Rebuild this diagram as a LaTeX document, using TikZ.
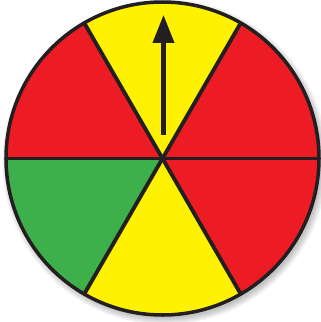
\documentclass[tikz,border=0pt]{standalone}
\usepackage{tikz}
\usetikzlibrary{arrows.meta}

\definecolor{spinred}{HTML}{ED1C24}
\definecolor{spinyellow}{HTML}{FFF200}
\definecolor{spingreen}{HTML}{3DB04B}
\definecolor{spinline}{HTML}{231F20}

\begin{document}
\begin{tikzpicture}[
    x=0.02cm, y=-0.02cm,
    rim/.style={draw=spinline, line width=2pt},
    divider/.style={draw=spinline, line width=2.2pt},
    softshade/.style={fill=black, opacity=0.05},
    pointer/.style={draw=spinline, line width=2.3pt, -{Triangle[length=0.56cm, width=0.42cm]}}
]
    \useasboundingbox (0,0) rectangle (321,322);

    % --- Centre and radius ---
    \coordinate (hub) at (162.5,158.5);
    \coordinate (shade) at (165,162);
    \def\rad{156.5}

    % --- Soft shadow ---
    \foreach \grow in {0,1.5,...,6}{
        \fill[softshade] (shade) circle[radius=\rad+\grow];
    }

    % --- Sectors (y axis points down) ---
    \foreach \from/\col in {0/spinred, 60/spinyellow, 120/spingreen, 180/spinred, 240/spinyellow, 300/spinred}{
        \fill[\col] (hub) -- ++(\from:\rad) arc[start angle=\from, end angle=\from+60, radius=\rad] -- cycle;
    }

    % --- Dividing lines ---
    \foreach \ang in {0,60,...,300}{
        \draw[divider] (hub) -- ++(\ang:\rad);
    }

    % --- Rim ---
    \draw[rim] (hub) circle[radius=\rad];

    % --- Pointer ---
    \coordinate (tip) at (163.5,15);
    \coordinate (tail) at (163.5,135);
    \draw[pointer] (tail) -- (tip);
\end{tikzpicture}
\end{document}
